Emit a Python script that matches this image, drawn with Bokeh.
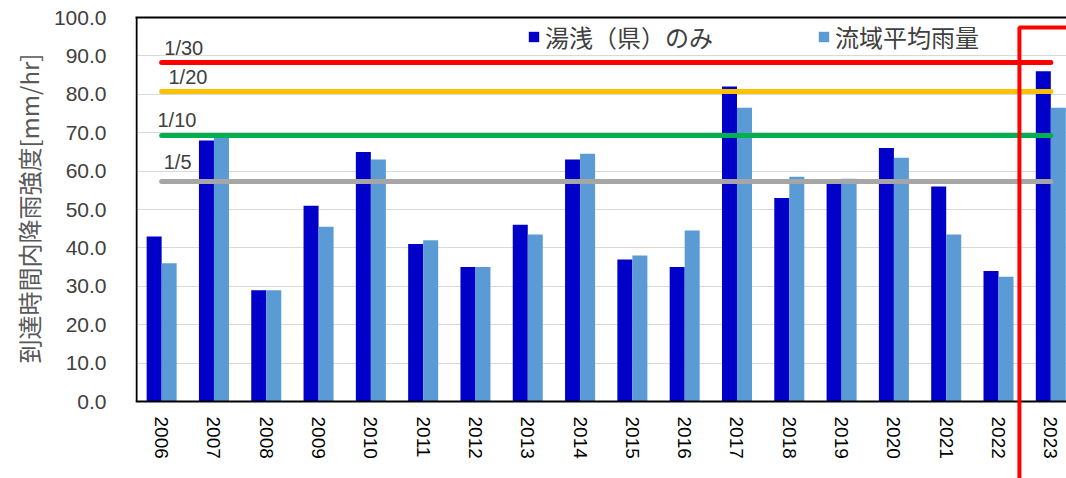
import math
from bokeh.plotting import figure
from bokeh.models import (Range1d, LinearAxis, FixedTicker, Legend, LegendItem,
                          ColumnDataSource, BoxAnnotation, NumeralTickFormatter, Title)
from bokeh.core.properties import value
from bokeh.embed import file_html
from bokeh.resources import INLINE

years = ["2006", "2007", "2008", "2009", "2010", "2011", "2012", "2013", "2014",
         "2015", "2016", "2017", "2018", "2019", "2020", "2021", "2022", "2023"]
yuasa = [43, 68, 29, 51, 65, 41, 35, 46, 63, 37, 35, 82, 53, 57.5, 66, 56, 34, 86]
basin = [36, 69, 29, 45.5, 63, 42, 35, 43.5, 64.5, 38, 44.5, 76.5, 58.5, 58, 63.5, 43.5, 32.5, 76.5]
series_names = ["湯浅（県）のみ", "流域平均雨量"]
y_title = "到達時間内降雨強度[mm/hr]"
threshold_labels = ["1/30", "1/20", "1/10", "1/5"]
threshold_values = [88.3, 80.7, 69.3, 57.3]
threshold_colors = ["#FF0000", "#FFC000", "#00B050", "#A6A6A6"]

FONT = "Liberation Sans"
CJK = "Noto Sans CJK JP"

# frame spans y 17..478 px; value 0 sits at 401 px (3.84 px per unit)
p = figure(width=1066, height=478, output_backend="svg", toolbar_location=None,
           x_range=Range1d(0, 17.8), y_range=Range1d(-20.05, 100),
           min_border_left=135, min_border_right=0, min_border_top=17,
           min_border_bottom=0, x_axis_location=None, y_axis_location=None)
p.outline_line_color = None
p.background_fill_color = "white"
p.border_fill_color = "white"

n = len(years)
centers = [i + 0.5 for i in range(n)]
bw = 0.287
src = ColumnDataSource(dict(xd=[c - bw / 2 for c in centers], xl=[c + bw / 2 for c in centers],
                            yuasa=yuasa, basin=basin))

p.xgrid.grid_line_color = None
p.ygrid.ticker = FixedTicker(ticks=list(range(0, 101, 10)))
p.ygrid.grid_line_color = "#D9D9D9"
p.ygrid.grid_line_width = 1

yaxis = LinearAxis(ticker=FixedTicker(ticks=list(range(0, 101, 10))),
                   formatter=NumeralTickFormatter(format="0.0"))
yaxis.axis_line_color = None
yaxis.major_tick_line_color = None
yaxis.minor_tick_line_color = None
yaxis.major_label_text_font = FONT
yaxis.major_label_text_font_size = "21px"
yaxis.major_label_text_color = "#404040"
yaxis.major_label_standoff = 23
p.add_layout(yaxis, "left")

# y-axis title, anchored from the bottom so it sits beside the 0-100 span
p.add_layout(Title(text=y_title, align="left", offset=115, standoff=10,
                   text_font=CJK, text_font_size="24px", text_font_style="normal",
                   text_color="#595959"), "left")

top_axis = LinearAxis(ticker=FixedTicker(ticks=[]))
top_axis.axis_line_color = "black"
top_axis.axis_line_width = 2
top_axis.major_tick_line_color = None
top_axis.minor_tick_line_color = None
top_axis.major_label_text_font_size = "0px"
p.add_layout(top_axis, "above")

r1 = p.vbar(x="xd", top="yuasa", width=bw, source=src, fill_color="#0000C8", line_color=None)
r2 = p.vbar(x="xl", top="basin", width=bw, source=src, fill_color="#5B9BD5", line_color=None)

# frame lines (left and bottom)
p.segment(x0=[0.02], y0=[0], x1=[0.02], y1=[100], line_color="black", line_width=2)
p.segment(x0=[0], y0=[0], x1=[17.8], y1=[0], line_color="black", line_width=2)

# x tick labels (rotated, reading downward)
p.text(x=centers, y=[0] * n, text=years, angle=-math.pi / 2, text_align="left",
       text_baseline="middle", y_offset=15, text_font=value(FONT),
       text_font_size="19px", text_color="#000000")

label_dx = [0.05, 0.13, -0.08, 0.04]
label_dy = [3, 4, 4, 8]
for lab, v, col, dx, dy in zip(threshold_labels, threshold_values, threshold_colors, label_dx, label_dy):
    p.line([centers[0], centers[-1]], [v, v], line_color=col, line_width=5, line_cap="round")
    p.text([centers[0] + dx], [v], text=[lab], text_font=value(FONT), text_font_size="20px",
           text_color="#404040", text_baseline="bottom", y_offset=-dy)

legend = Legend(items=[LegendItem(label=series_names[0], renderers=[r1]),
                       LegendItem(label=series_names[1], renderers=[r2])],
                orientation="horizontal", location=(392, 424),
                label_text_font=CJK, label_text_font_size="24px", label_text_color="#404040",
                glyph_width=13, glyph_height=13, spacing=104, label_standoff=5,
                border_line_color=None, background_fill_alpha=0, padding=4, margin=0)
p.add_layout(legend, "center")

box = BoxAnnotation(left=16.9, right=18.6, top=97.4, bottom=-25,
                    fill_color=None, fill_alpha=0, line_color="#FF0000", line_alpha=1,
                    line_width=4, propagate_hover=False)
p.add_layout(box)

open("out.html", "w").write(file_html(p, INLINE))
